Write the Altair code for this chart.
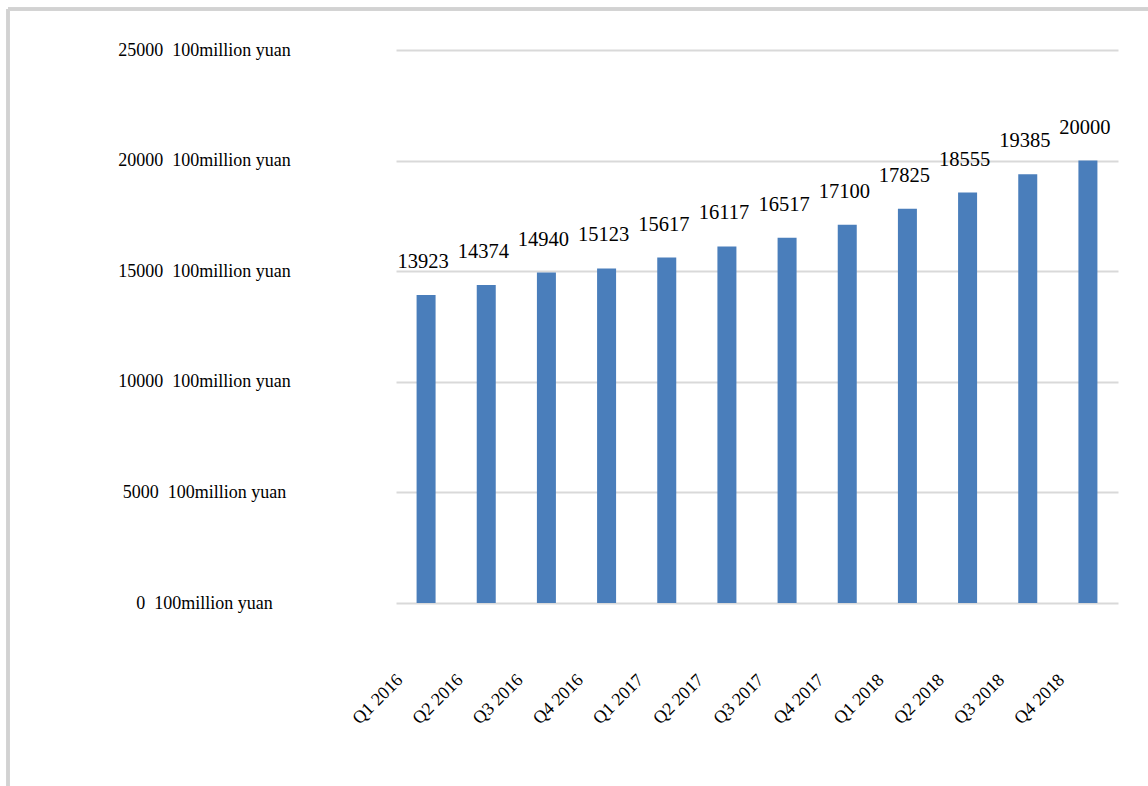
import altair as alt
import pandas as pd

quarters = ["Q1 2016", "Q2 2016", "Q3 2016", "Q4 2016",
            "Q1 2017", "Q2 2017", "Q3 2017", "Q4 2017",
            "Q1 2018", "Q2 2018", "Q3 2018", "Q4 2018"]
values = [13923, 14374, 14940, 15123, 15617, 16117, 16517, 17100,
          17825, 18555, 19385, 20000]
y_ticks = [0, 5000, 10000, 15000, 20000, 25000]

df = pd.DataFrame({"quarter": quarters, "value": values})

FONT = "Liberation Serif"
W, H = 722, 553

x_enc = alt.X("quarter:N", sort=quarters, title=None,
              scale=alt.Scale(paddingInner=0.68, paddingOuter=0.34),
              axis=alt.Axis(labelAngle=-45, labelAlign="right", labelBaseline="middle",
                            labelPadding=74, labelOffset=-26, ticks=False, domain=False,
                            labelFont=FONT, labelFontSize=18, labelColor="#000000",
                            labelOverlap=False, labelBound=False))
y_enc = alt.Y("value:Q", title=None,
              scale=alt.Scale(domain=[0, 25000], nice=False),
              axis=alt.Axis(values=y_ticks,
                            labelExpr="datum.value + '\u00a0\u00a0100million yuan'",
                            labelAlign="center", labelBaseline="middle", labelPadding=192,
                            ticks=False, domain=False, grid=True, gridColor="#d9d9d9",
                            gridWidth=2, labelFont=FONT, labelFontSize=18,
                            labelColor="#000000"))

base = alt.Chart(df)
bars = base.mark_bar(color="#4a7ebb", size=19).encode(x=x_enc, y=y_enc)
labels = base.mark_text(font=FONT, fontSize=20.5, color="#000000", dy=-33, dx=-3,
                        baseline="middle", align="center").encode(
    x=alt.X("quarter:N", sort=quarters), y="value:Q", text="value:Q")

top_border = alt.Chart(df).mark_rule(color="#d2d2d2", strokeWidth=2.5).encode(
    x=alt.value(-388), x2=alt.value(752), y=alt.value(-41))
left_border = alt.Chart(df).mark_rule(color="#d2d2d2", strokeWidth=2.5).encode(
    x=alt.value(-388), y=alt.value(-41), y2=alt.value(736))

chart = alt.layer(bars, labels, top_border, left_border).properties(
    width=W, height=H,
    autosize=alt.AutoSizeParams(type="none"),
    padding={"left": 396, "top": 50, "right": 30, "bottom": 183},
    background="#ffffff",
).configure_view(stroke=None)

chart.save("out.html", embed_options={"renderer": "svg", "actions": False})
